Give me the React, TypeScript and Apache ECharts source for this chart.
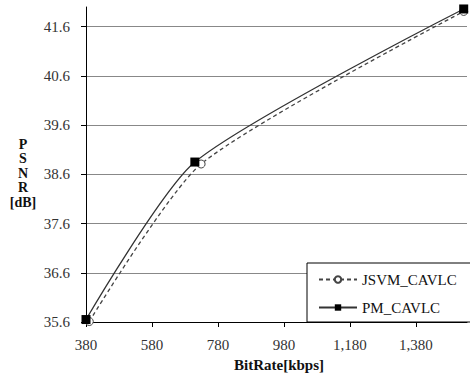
import React, { useEffect, useRef } from "react";
import * as echarts from "echarts";

const seriesNames = ["JSVM_CAVLC", "PM_CAVLC"];
const jsvmBitRate = [390, 729, 1525];
const jsvmPsnr = [35.61, 38.81, 41.91];
const pmBitRate = [380, 710, 1525];
const pmPsnr = [35.65, 38.85, 41.96];
const yTickLabels = ["35.6", "36.6", "37.6", "38.6", "39.6", "40.6", "41.6"];
const xTickLabels = ["380", "580", "780", "980", "1,180", "1,380"];

const FONT = "Liberation Serif, Times New Roman, serif";

export default function App() {
  const ref = useRef<HTMLDivElement>(null);
  useEffect(() => {
    if (!ref.current) return;
    const chart = echarts.init(ref.current, null, { renderer: "svg" });
    const pair = (xs: number[], ys: number[]) => xs.map((x, i) => [x, ys[i]]);
    chart.setOption({
      animation: false,
      backgroundColor: "#fff",
      textStyle: { fontFamily: FONT },
      grid: { left: 86, right: 3, top: 7, bottom: 54, containLabel: false },
      xAxis: {
        type: "value",
        min: 380,
        max: 1535,
        interval: 200,
        axisLine: { show: true, lineStyle: { color: "#000", width: 1 } },
        axisTick: { show: true, length: 5, lineStyle: { color: "#000" } },
        splitLine: { show: false },
        axisLabel: {
          showMaxLabel: false,
          margin: 15,
          color: "#333",
          fontFamily: FONT,
          fontSize: 15,
          formatter: (v: number) => {
            const idx = Math.round((v - 380) / 200);
            return xTickLabels[idx] ?? "";
          },
        },
      },
      yAxis: {
        type: "value",
        min: 35.6,
        max: 42,
        interval: 1,
        axisLine: { show: true, lineStyle: { color: "#000", width: 1 } },
        axisTick: { show: true, length: 5, lineStyle: { color: "#000" } },
        splitLine: {
          show: true,
          lineStyle: {
            color: ["#888", "#888", "#888", "#888", "#888", "#888", "#888", "rgba(0,0,0,0)"],
            width: 1,
          },
        },
        axisLabel: {
          showMaxLabel: false,
          margin: 16,
          color: "#333",
          fontFamily: FONT,
          fontSize: 15,
          formatter: (v: number) => {
            const idx = Math.round(v - 35.6);
            return yTickLabels[idx] ?? "";
          },
        },
      },
      legend: {
        data: seriesNames,
        orient: "vertical",
        left: 307,
        top: 263,
        padding: [9, 21, 7, 11],
        itemGap: 13,
        itemWidth: 38,
        itemHeight: 8,
        backgroundColor: "#fff",
        borderColor: "#000",
        borderWidth: 1,
        borderRadius: 0,
        textStyle: { fontFamily: FONT, fontSize: 15, color: "#111" },
      },
      graphic: [
        {
          type: "text",
          x: 23,
          y: 137,
          style: {
            text: "P\nS\nN\nR\n[dB]",
            align: "center",
            lineHeight: 14.5,
            fontFamily: FONT,
            fontWeight: "bold",
            fontSize: 14,
            fill: "#111",
          },
        },
        {
          type: "text",
          x: 279,
          y: 365,
          style: {
            text: "BitRate[kbps]",
            align: "center",
            verticalAlign: "middle",
            fontFamily: FONT,
            fontWeight: "bold",
            fontSize: 15,
            fill: "#111",
          },
        },
      ],
      series: [
        {
          name: seriesNames[0],
          type: "line",
          data: pair(jsvmBitRate, jsvmPsnr),
          smooth: 0.22,
          symbol: "circle",
          symbolSize: 8,
          z: 2,
          lineStyle: { color: "#444", width: 1.3, type: [4, 3] },
          itemStyle: { color: "#fff", borderColor: "#444", borderWidth: 1 },
        },
        {
          name: seriesNames[1],
          type: "line",
          data: pair(pmBitRate, pmPsnr),
          smooth: 0.22,
          symbol: "rect",
          symbolSize: 9,
          z: 3,
          lineStyle: { color: "#333", width: 1.3, type: "solid" },
          itemStyle: { color: "#000", borderColor: "#000", borderWidth: 0 },
        },
      ],
    });
    return () => chart.dispose();
  }, []);
  return (
    <div
      ref={ref}
      style={{ position: "fixed", left: 0, top: 0, width: 470, height: 376 }}
    />
  );
}
